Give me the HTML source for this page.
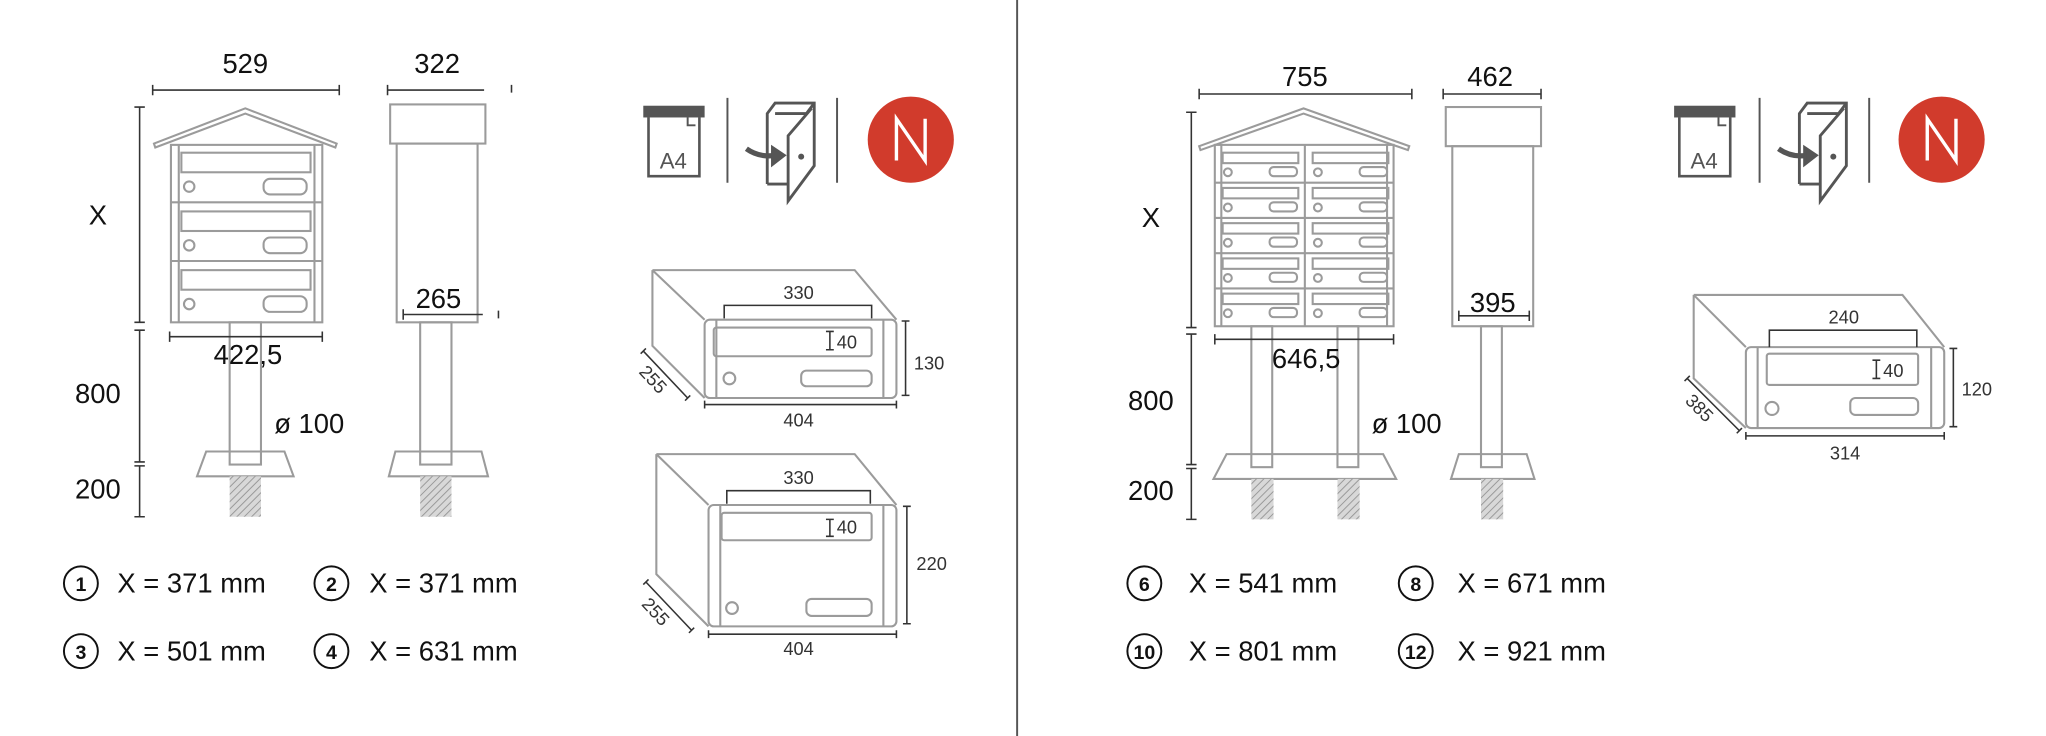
<!DOCTYPE html>
<html><head><meta charset="utf-8"><style>
html,body{margin:0;padding:0;background:#fff;}
svg{display:block;}
text{font-family:"Liberation Sans",sans-serif;fill:#111;}
.g{fill:none;stroke:#9b9b9b;stroke-width:1.6;}
.d{fill:none;stroke:#333;stroke-width:1.2;}
.sm{font-size:14px;fill:#333;}
.big{font-size:21px;}
</style></head><body>
<svg width="2046" height="736" viewBox="0 0 1568 564" xmlns="http://www.w3.org/2000/svg">
<defs>
<pattern id="h" width="4" height="4" patternUnits="userSpaceOnUse" patternTransform="rotate(45)">
<rect width="4" height="4" fill="#d8d8d8"/><line x1="0" y1="0" x2="0" y2="4" stroke="#999" stroke-width="1.5"/></pattern>
<g id="c1"><rect class="g" x="8" y="7" width="99" height="15"/><circle class="g" cx="14" cy="33" r="4"/><rect class="g" x="71" y="27" width="33" height="12" rx="5"/></g>
<g id="c2"><rect class="g" x="6" y="4" width="58" height="8"/><circle class="g" cx="10" cy="19" r="3"/><rect class="g" x="42" y="15" width="21" height="7" rx="3"/></g>
<g id="a4"><rect x="0" y="0" width="47" height="9" fill="#555"/><path d="M4 9 V54 H43 V9" fill="none" stroke="#555" stroke-width="2"/><path d="M34 9 v6 h6" fill="none" stroke="#555" stroke-width="1.5"/><text x="23" y="48" text-anchor="middle" style="font-size:17px;fill:#555">A4</text></g>
<g id="door" fill="none" stroke="#555" stroke-width="2.2"><path d="M14 62 V8 L20 0 H50 V48 L30 75 V25 L48 4"/><path d="M14 62 H30"/><path d="M50 0 L44 8 H20"/><path d="M-2 35 Q8 42 20 40" stroke-width="4"/><path d="M18 34 L27 40 L18 47 Z" fill="#555"/><circle cx="40" cy="41" r="1.2" fill="#555"/></g>
</defs>

<!-- center divider -->
<line x1="779.5" y1="0" x2="779.5" y2="564" stroke="#555" stroke-width="1.5"/>

<!-- LEFT FRONT UNIT -->
<path class="g" d="M118 110 L188 83 L258 110 L257 113 L188 87 L119 113 Z"/>
<rect class="g" x="131" y="111" width="116" height="136"/>
<line class="g" x1="137" y1="111" x2="137" y2="247"/><line class="g" x1="241" y1="111" x2="241" y2="247"/>
<line class="g" x1="131" y1="155" x2="247" y2="155"/><line class="g" x1="131" y1="200" x2="247" y2="200"/>
<use href="#c1" x="131" y="110"/><use href="#c1" x="131" y="155"/><use href="#c1" x="131" y="200"/>
<rect class="g" x="176" y="247" width="24" height="109"/>
<path class="g" d="M158 346 H218 L225 365 H151 Z"/>
<rect x="176" y="365" width="24" height="31" fill="url(#h)"/>
<!-- dims -->
<path class="d" d="M117 69 H260 M117 65 V73 M260 65 V73"/><text x="188" y="56" text-anchor="middle" class="big">529</text>
<path class="d" d="M107 82 V247 M103 82 H111 M103 247 H111"/><text x="75" y="172" text-anchor="middle" class="big">X</text>
<path class="d" d="M107 253 V354 M103 253 H111 M103 354 H111"/><text x="75" y="309" text-anchor="middle" class="big">800</text>
<path class="d" d="M107 357 V396 M103 357 H111 M103 396 H111"/><text x="75" y="382" text-anchor="middle" class="big">200</text>
<path class="d" d="M130 258 H247 M130 254 V262 M247 254 V262"/><text x="190" y="279" text-anchor="middle" class="big">422,5</text>
<text x="237" y="332" text-anchor="middle" class="big">ø 100</text>
<!-- LEFT SIDE UNIT -->
<rect class="g" x="299" y="80" width="73" height="30"/>
<rect class="g" x="304" y="110" width="62" height="137"/>
<rect class="g" x="322" y="247" width="24" height="109"/>
<path class="g" d="M303 346 H369 L374 365 H298 Z"/>
<rect x="322" y="365" width="24" height="31" fill="url(#h)"/>
<path class="d" d="M297 69 H371 M297 65 V73 M392 65 V71"/><text x="335" y="56" text-anchor="middle" class="big">322</text>
<path class="d" d="M309 241 H370 M309 237 V245 M382 238 V244"/><text x="336" y="236" text-anchor="middle" class="big">265</text>

<!-- LEFT ICONS -->
<use href="#a4" x="493" y="81"/>
<line x1="557.5" y1="75" x2="557.5" y2="140" stroke="#555" stroke-width="1.5"/>
<use href="#door" x="574" y="79"/>
<line x1="641.5" y1="75" x2="641.5" y2="140" stroke="#555" stroke-width="1.5"/>
<circle cx="698" cy="107" r="33" fill="#d13b2c"/>
<path d="M687 123 V91 L709 123 V91" fill="none" stroke="#fff" stroke-width="2.6"/>

<!-- BOX 1 -->
<path class="g" d="M500 207 H655 L687 245 M500 207 L540 245 M500 207 V265 L540 305"/>
<rect class="g" x="540" y="245" width="147" height="60" rx="4"/>
<line class="g" x1="549" y1="245" x2="549" y2="305"/><line class="g" x1="677" y1="245" x2="677" y2="305"/>
<rect class="g" x="547" y="251" width="121" height="22" rx="2"/>
<circle class="g" cx="559" cy="290" r="4.5"/><rect class="g" x="614" y="284" width="54" height="12" rx="4"/>
<path class="d" d="M555 244 V234 H668 V244"/><text x="612" y="229" text-anchor="middle" class="sm">330</text>
<path class="d" d="M636 254 V268 M633 254 H639 M633 268 H639"/><text x="649" y="267" text-anchor="middle" class="sm">40</text>
<path class="d" d="M694 246 V303 M691 246 H697 M691 303 H697"/><text x="712" y="283" text-anchor="middle" class="sm">130</text>
<path class="d" d="M540 310 H687 M540 307 V313 M687 307 V313"/><text x="612" y="327" text-anchor="middle" class="sm">404</text>
<path class="d" d="M493 269 L527 305 M491 271 L495 267 M525 307 L529 303"/>
<text x="0" y="0" class="sm" transform="translate(497 294) rotate(47)" text-anchor="middle">255</text>

<!-- BOX 2 -->
<path class="g" d="M503 348 H655 L687 387 M503 348 L543 387 M503 348 V440 L543 480"/>
<rect class="g" x="543" y="387" width="144" height="93" rx="4"/>
<line class="g" x1="552" y1="387" x2="552" y2="480"/><line class="g" x1="677" y1="387" x2="677" y2="480"/>
<rect class="g" x="553" y="393" width="115" height="21" rx="2"/>
<circle class="g" cx="561" cy="466" r="4.5"/><rect class="g" x="618" y="459" width="50" height="13" rx="4"/>
<path class="d" d="M557 386 V376 H667 V386"/><text x="612" y="371" text-anchor="middle" class="sm">330</text>
<path class="d" d="M636 398 V411 M633 398 H639 M633 411 H639"/><text x="649" y="409" text-anchor="middle" class="sm">40</text>
<path class="d" d="M695 388 V478 M692 388 H698 M692 478 H698"/><text x="714" y="437" text-anchor="middle" class="sm">220</text>
<path class="d" d="M543 486 H687 M543 483 V489 M687 483 V489"/><text x="612" y="502" text-anchor="middle" class="sm">404</text>
<path class="d" d="M495 446 L530 483 M493 448 L497 444 M528 485 L532 481"/>
<text x="0" y="0" class="sm" transform="translate(499 472) rotate(47)" text-anchor="middle">255</text>

<!-- LEFT LEGEND -->
<g fill="none" stroke="#111" stroke-width="1.5"><circle cx="62" cy="447" r="13"/><circle cx="254" cy="447" r="13"/><circle cx="62" cy="499" r="13"/><circle cx="254" cy="499" r="13"/></g>
<g style="font-size:15px;font-weight:bold" text-anchor="middle"><text x="62" y="453">1</text><text x="254" y="453">2</text><text x="62" y="505">3</text><text x="254" y="505">4</text></g>
<text x="90" y="454" class="big">X = 371 mm</text><text x="283" y="454" class="big">X = 371 mm</text>
<text x="90" y="506" class="big">X = 501 mm</text><text x="283" y="506" class="big">X = 631 mm</text>

<!-- RIGHT FRONT UNIT -->
<path class="g" d="M919 112 L999 83 L1080 112 L1079 115 L999 87 L920 115 Z"/>
<rect class="g" x="931" y="111" width="137" height="139"/>
<line class="g" x1="936" y1="111" x2="936" y2="250"/><line class="g" x1="1063" y1="111" x2="1063" y2="250"/>
<line class="g" x1="1000" y1="111" x2="1000" y2="250"/>
<line class="g" x1="931" y1="140" x2="1068" y2="140"/><line class="g" x1="931" y1="167" x2="1068" y2="167"/><line class="g" x1="931" y1="194" x2="1068" y2="194"/><line class="g" x1="931" y1="221" x2="1068" y2="221"/>
<use href="#c2" x="931" y="113"/><use href="#c2" x="1000" y="113"/>
<use href="#c2" x="931" y="140"/><use href="#c2" x="1000" y="140"/>
<use href="#c2" x="931" y="167"/><use href="#c2" x="1000" y="167"/>
<use href="#c2" x="931" y="194"/><use href="#c2" x="1000" y="194"/>
<use href="#c2" x="931" y="221"/><use href="#c2" x="1000" y="221"/>
<rect class="g" x="959" y="250" width="16" height="108"/><rect class="g" x="1025" y="250" width="16" height="108"/>
<path class="g" d="M940 348 H1060 L1070 367 H930 Z"/>
<rect x="959" y="367" width="17" height="31" fill="url(#h)"/><rect x="1025" y="367" width="17" height="31" fill="url(#h)"/>
<path class="d" d="M919 72 H1082 M919 68 V76 M1082 68 V76"/><text x="1000" y="66" text-anchor="middle" class="big">755</text>
<path class="d" d="M913 86 V251 M909 86 H917 M909 251 H917"/><text x="882" y="174" text-anchor="middle" class="big">X</text>
<path class="d" d="M913 256 V356 M909 256 H917 M909 356 H917"/><text x="882" y="314" text-anchor="middle" class="big">800</text>
<path class="d" d="M913 359 V398 M909 359 H917 M909 398 H917"/><text x="882" y="383" text-anchor="middle" class="big">200</text>
<path class="d" d="M931 260 H1068 M931 256 V264 M1068 256 V264"/><text x="1001" y="282" text-anchor="middle" class="big">646,5</text>
<text x="1078" y="332" text-anchor="middle" class="big">ø 100</text>
<!-- RIGHT SIDE UNIT -->
<rect class="g" x="1108" y="82" width="73" height="30"/>
<rect class="g" x="1113" y="112" width="62" height="138"/>
<rect class="g" x="1135" y="250" width="16" height="108"/>
<path class="g" d="M1118 348 H1170 L1176 367 H1112 Z"/>
<rect x="1135" y="367" width="17" height="31" fill="url(#h)"/>
<path class="d" d="M1106 72 H1181 M1106 68 V76 M1181 68 V76"/><text x="1142" y="66" text-anchor="middle" class="big">462</text>
<path class="d" d="M1118 242 H1172 M1118 238 V246 M1172 238 V246"/><text x="1144" y="239" text-anchor="middle" class="big">395</text>

<!-- RIGHT ICONS -->
<use href="#a4" x="1283" y="81"/>
<line x1="1348.5" y1="75" x2="1348.5" y2="140" stroke="#555" stroke-width="1.5"/>
<use href="#door" x="1365" y="79"/>
<line x1="1432.5" y1="75" x2="1432.5" y2="140" stroke="#555" stroke-width="1.5"/>
<circle cx="1488" cy="107" r="33" fill="#d13b2c"/>
<path d="M1477 123 V91 L1499 123 V91" fill="none" stroke="#fff" stroke-width="2.6"/>

<!-- RIGHT BOX -->
<path class="g" d="M1298 226 H1458 L1490 266 M1298 226 L1338 266 M1298 226 V290 L1338 328"/>
<rect class="g" x="1338" y="266" width="152" height="62" rx="4"/>
<line class="g" x1="1347" y1="266" x2="1347" y2="328"/><line class="g" x1="1480" y1="266" x2="1480" y2="328"/>
<rect class="g" x="1354" y="271" width="116" height="24" rx="2"/>
<circle class="g" cx="1358" cy="313" r="5"/><rect class="g" x="1418" y="305" width="52" height="13" rx="4"/>
<path class="d" d="M1356 266 V253 H1469 V266"/><text x="1413" y="248" text-anchor="middle" class="sm">240</text>
<path class="d" d="M1438 276 V290 M1435 276 H1441 M1435 290 H1441"/><text x="1451" y="289" text-anchor="middle" class="sm">40</text>
<path class="d" d="M1497 267 V327 M1494 267 H1500 M1494 327 H1500"/><text x="1515" y="303" text-anchor="middle" class="sm">120</text>
<path class="d" d="M1338 334 H1490 M1338 331 V337 M1490 331 V337"/><text x="1414" y="352" text-anchor="middle" class="sm">314</text>
<path class="d" d="M1293 290 L1333 330 M1291 292 L1295 288 M1331 332 L1335 328"/>
<text x="0" y="0" class="sm" transform="translate(1299 316) rotate(45)" text-anchor="middle">385</text>

<!-- RIGHT LEGEND -->
<g fill="none" stroke="#111" stroke-width="1.5"><circle cx="877" cy="447" r="13"/><circle cx="1085" cy="447" r="13"/><circle cx="877" cy="499" r="13"/><circle cx="1085" cy="499" r="13"/></g>
<g style="font-size:15px;font-weight:bold" text-anchor="middle"><text x="877" y="453">6</text><text x="1085" y="453">8</text><text x="877" y="505">10</text><text x="1085" y="505">12</text></g>
<text x="911" y="454" class="big">X = 541 mm</text><text x="1117" y="454" class="big">X = 671 mm</text>
<text x="911" y="506" class="big">X = 801 mm</text><text x="1117" y="506" class="big">X = 921 mm</text>
</svg>
</body></html>
